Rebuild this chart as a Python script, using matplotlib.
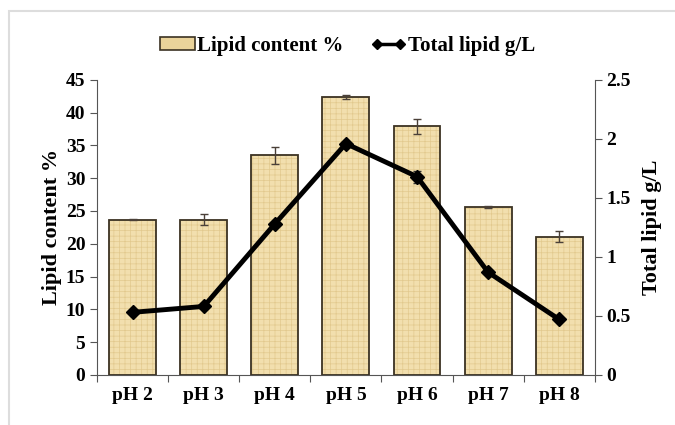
from matplotlib import pyplot as plt
from matplotlib.ticker import FixedLocator, FuncFormatter, NullFormatter
from matplotlib.patches import Rectangle
from matplotlib.lines import Line2D

categories = ['pH 2', 'pH 3', 'pH 4', 'pH 5', 'pH 6', 'pH 7', 'pH 8']
lipid_content = [23.7, 23.7, 33.5, 42.4, 37.9, 25.6, 21.1]
lipid_content_err = [0.15, 0.8, 1.3, 0.3, 1.2, 0.2, 0.8]
total_lipid = [0.53, 0.58, 1.28, 1.96, 1.68, 0.87, 0.47]
total_lipid_err = [0.0, 0.0, 0.0, 0.0, 0.05, 0.0, 0.0]

plt.rcParams['font.family'] = ['Liberation Serif', 'DejaVu Serif']
plt.rcParams['font.weight'] = 'bold'
plt.rcParams['hatch.linewidth'] = 0.5

bar_face = '#f2dfae'
bar_edge = '#3b3222'

fig = plt.figure(figsize=(6.75, 4.25), dpi=100)
ax = fig.add_axes([0.144, 0.118, 0.737, 0.694])

x = range(len(categories))
# light texture first, then the dark outline on top
ax.bar(x, lipid_content, width=0.66, color=bar_face, edgecolor='#e2c98e',
       linewidth=0, hatch='+++')
ax.bar(x, lipid_content, width=0.66, fill=False, edgecolor=bar_edge,
       linewidth=1.3, yerr=lipid_content_err,
       error_kw=dict(ecolor='#4a4038', elinewidth=1, capsize=3, capthick=1))

ax.set_xlim(-0.5, len(categories) - 0.5)
ax.set_ylim(0, 45)
ax.set_yticks(range(0, 46, 5))
ax.set_ylabel('Lipid content %', fontsize=16, fontweight='bold', labelpad=3)
ax.xaxis.set_major_locator(FixedLocator([i - 0.5 for i in range(len(categories) + 1)]))
ax.xaxis.set_major_formatter(NullFormatter())
ax.xaxis.set_minor_locator(FixedLocator(list(x)))
ax.set_xticklabels(categories, minor=True)
ax.tick_params(axis='x', which='minor', length=0, labelsize=14, pad=9)
ax.tick_params(axis='x', which='major', direction='out', length=5, color='#555555')
ax.tick_params(axis='y', direction='out', length=5, labelsize=14, color='#555555')
for s in ['top', 'right']:
    ax.spines[s].set_visible(False)
for s in ['left', 'bottom']:
    ax.spines[s].set_color('#555555')

ax2 = ax.twinx()
ax2.errorbar(x, total_lipid, yerr=total_lipid_err, color='black', lw=3.5,
             marker='D', markersize=7, ecolor='#333333', elinewidth=1, capsize=3)
ax2.set_ylim(0, 2.5)
ax2.set_yticks([0, 0.5, 1, 1.5, 2, 2.5])
ax2.yaxis.set_major_formatter(FuncFormatter(lambda v, p: '%g' % v))
ax2.tick_params(axis='y', direction='out', length=5, labelsize=14, color='#555555')
ax2.set_ylabel('Total lipid g/L', fontsize=16, fontweight='bold', labelpad=8)
for s in ['top', 'left', 'bottom']:
    ax2.spines[s].set_visible(False)
ax2.spines['right'].set_color('#555555')

handles = [Rectangle((0, 0), 1, 1, facecolor='#ead39a', edgecolor=bar_edge, lw=1.2),
           Line2D([], [], color='black', lw=2.5, marker='D', markersize=5)]
fig.legend(handles, ['Lipid content %', 'Total lipid g/L'], loc='upper center',
           bbox_to_anchor=(0.515, 0.96), ncol=2, frameon=False, fontsize=15,
           numpoints=2, handlelength=1.7, handleheight=0.6, handletextpad=0.1,
           columnspacing=1.3)

fig.patches.append(Rectangle((0.013, -0.05), 1.1, 1.025, transform=fig.transFigure,
                             fill=False, edgecolor='#dddddd', lw=1.5))

fig.savefig('out.png', dpi=100)
